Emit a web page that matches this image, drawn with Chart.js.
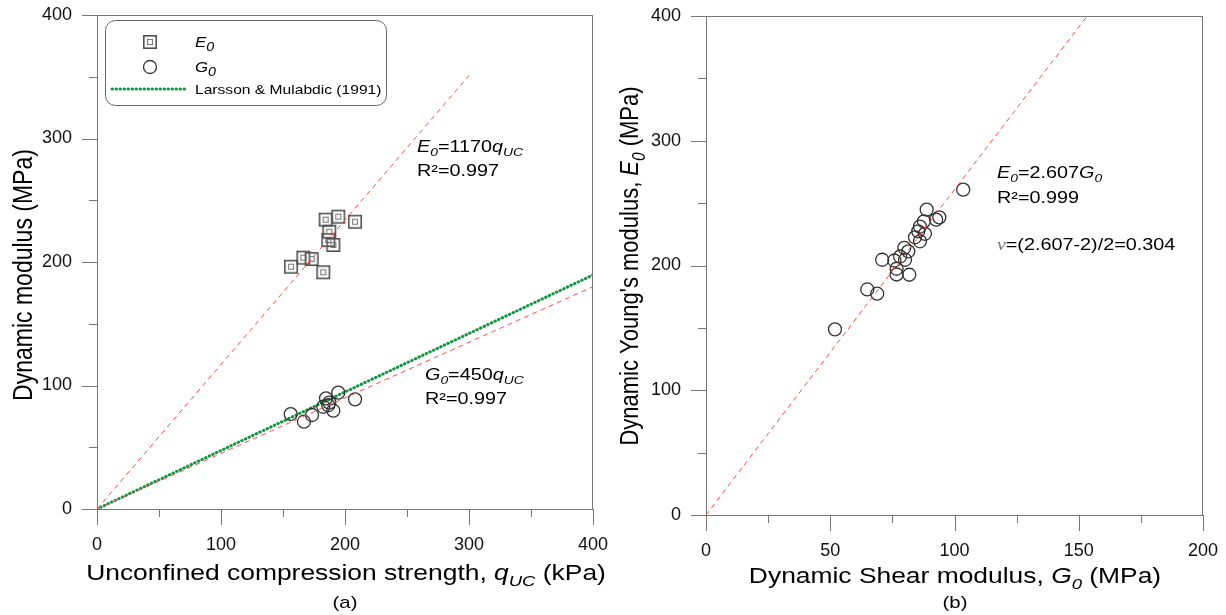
<!DOCTYPE html>
<html><head><meta charset="utf-8">
<script src="https://cdn.jsdelivr.net/npm/chart.js@4"></script>
<style>
html,body{margin:0;padding:0;background:#fff;}
body{width:1226px;height:615px;overflow:hidden;position:relative;}
canvas{position:absolute;top:0;}
#c1{left:0;} #c2{left:613px;}
</style></head>
<body>
<canvas id="c1" width="613" height="615"></canvas>
<canvas id="c2" width="613" height="615"></canvas>
<script>
// ---------- DATA ----------
// Panel (a)
const qucE = [156.5, 166.4, 173.1, 182.5, 184.4, 186.5, 187.3, 190.6, 194.6, 208.1];
const e0A  = [196.2, 203.5, 202.4, 191.7, 234.3, 217.8, 224.5, 213.8, 236.7, 232.6];
const qucG = [156.2, 166.9, 173.4, 182.5, 184.7, 186.5, 187.3, 190.6, 194.6, 208.1];
const g0A  = [76.9, 70.7, 76.1, 82.8, 89.6, 84.0, 86.1, 79.6, 94.2, 88.8];
const fitEx = [0, 300], fitEy = [0, 351];
const fitGx = [0, 400], fitGy = [0, 180];
const lmX = [0, 400], lmY = [0, 189.5];
const aXMajor = [0, 100, 200, 300, 400], aXMinor = [50, 150, 250, 350];
const aYMajor = [0, 100, 200, 300, 400], aYMinor = [50, 150, 250, 350];
// Panel (b)
const g0B = [103.5, 88.8, 93.9, 92.6, 87.7, 86.1, 85.4, 88.1, 84.1, 86.1, 79.8, 81.4, 78.1, 75.8, 80.1, 70.9, 76.7, 76.7, 81.8, 64.9, 68.9, 51.9];
const e0B = [260.8, 244.8, 238.6, 236.8, 235.4, 231.2, 227.4, 225.4, 222.6, 219.4, 214.2, 211.4, 207.2, 204.0, 204.6, 204.6, 197.4, 192.8, 192.6, 180.8, 177.4, 148.8];
const fitBx = [0, 153.4], fitBy = [0, 400];
const bXMajor = [0, 50, 100, 150, 200], bXMinor = [25, 75, 125, 175];
const bYMajor = [0, 100, 200, 300, 400], bYMinor = [50, 150, 250, 350];

const pts = (xs, ys) => xs.map((x, i) => ({x, y: ys[i]}));
const SANS = '"Liberation Sans", Arial, sans-serif';
const SX = 1.2; // horizontal stretch of text in the original figure

// double square marker
function makeSq() {
  const c = document.createElement('canvas'); c.width = 16; c.height = 16;
  const g = c.getContext('2d');
  g.strokeStyle = '#505050'; g.lineWidth = 1.6; g.strokeRect(1.8, 1.8, 12.4, 12.4);
  g.strokeStyle = '#7a7a7a'; g.lineWidth = 1.1; g.strokeRect(5.5, 5.5, 5, 5);
  return c;
}
const sqImg = makeSq();

// rich text helpers: runs = [[text, style]], style: '', 'i', 'is', 'g' (greek serif)
let SUBR = 0.7;
function runFont(st, size) {
  const sub = st.includes('s');
  const fs = sub ? size * SUBR : size;
  if (st.includes('g')) return `italic ${fs}px "Liberation Serif", "DejaVu Serif", serif`;
  return `${st.includes('i') ? 'italic ' : ''}${fs}px ${SANS}`;
}
function measureRich(ctx, runs, size) {
  let w = 0;
  for (const [t, st] of runs) { ctx.font = runFont(st, size); w += ctx.measureText(t).width; }
  return w;
}
function drawRichLocal(ctx, runs, size, color, align) {
  ctx.textBaseline = 'alphabetic'; ctx.textAlign = 'left';
  let cx = 0;
  if (align === 'center') cx = -measureRich(ctx, runs, size) / 2;
  for (const [t, st] of runs) {
    ctx.font = runFont(st, size);
    ctx.fillStyle = st.includes('g') ? '#777' : color;
    ctx.fillText(t, cx, st.includes('s') ? size * 0.27 : 0);
    cx += ctx.measureText(t).width;
  }
}
function drawRich(ctx, x, y, runs, size, color, align) {
  ctx.save(); ctx.translate(x, y); ctx.scale(SX, 1);
  drawRichLocal(ctx, runs, size, color, align);
  ctx.restore();
}
function drawRichV(ctx, cx, cy, runs, size, color) {
  ctx.save(); ctx.translate(cx, cy); ctx.scale(SX, 1); ctx.rotate(-Math.PI / 2);
  drawRichLocal(ctx, runs, size, color, 'center');
  ctx.restore();
}

function frameAndTicks(chart, xMaj, xMin, yMaj, yMin) {
  const ctx = chart.ctx, a = chart.chartArea, xs = chart.scales.x, ys = chart.scales.y;
  ctx.save();
  ctx.strokeStyle = '#777'; ctx.lineWidth = 1;
  ctx.beginPath();
  ctx.moveTo(a.left, a.top + 0.5); ctx.lineTo(a.right, a.top + 0.5);
  ctx.moveTo(a.right - 0.5, a.top); ctx.lineTo(a.right - 0.5, a.bottom);
  for (const v of xMaj) { const p = Math.round(xs.getPixelForValue(v)) + 0.5; ctx.moveTo(p, a.bottom); ctx.lineTo(p, a.bottom + 16); }
  for (const v of xMin) { const p = Math.round(xs.getPixelForValue(v)) + 0.5; ctx.moveTo(p, a.bottom); ctx.lineTo(p, a.bottom + 8); }
  for (const v of yMaj) { const p = Math.round(ys.getPixelForValue(v)) + 0.5; ctx.moveTo(a.left - 15, p); ctx.lineTo(a.left, p); }
  for (const v of yMin) { const p = Math.round(ys.getPixelForValue(v)) + 0.5; ctx.moveTo(a.left - 8, p); ctx.lineTo(a.left, p); }
  ctx.stroke();
  ctx.restore();
}

function zeroPad(s) { s.paddingLeft = 0; s.paddingRight = 0; s.paddingTop = 0; s.paddingBottom = 0; }

function baseScales(xMax, yMax, xMaj, yMaj, yW, xH) {
  const common = {
    type: 'linear',
    grid: { display: true, drawOnChartArea: false, drawTicks: true, tickLength: 15, tickColor: 'rgba(0,0,0,0)' },
    border: { display: true, color: '#777', width: 1 },
    ticks: { color: '#111', font: { family: SANS, size: 18 }, padding: 10 }
  };
  return {
    x: Object.assign({}, common, {
      min: 0, max: xMax,
      grid: Object.assign({}, common.grid, { tickLength: 16 }),
      ticks: Object.assign({}, common.ticks, { padding: 9, maxRotation: 0 }),
      afterBuildTicks: s => { s.ticks = xMaj.map(v => ({value: v})); },
      afterFit: s => { s.height = xH; zeroPad(s); }
    }),
    y: Object.assign({}, common, {
      min: 0, max: yMax,
      afterBuildTicks: s => { s.ticks = yMaj.map(v => ({value: v})); },
      afterFit: s => { s.width = yW; zeroPad(s); }
    })
  };
}

const commonOpts = {
  responsive: false, animation: false,
  plugins: { legend: { display: false }, tooltip: { enabled: false } }
};

// ---------- Chart (a) ----------
const pluginA = {
  id: 'pa',
  afterDraw(chart) {
    const ctx = chart.ctx;
    frameAndTicks(chart, aXMajor, aXMinor, aYMajor, aYMinor);
    // axis titles
    drawRich(ctx, 346, 580, [['Unconfined compression strength, ', ''], ['q', 'i'], ['UC', 'is'], [' (kPa)', '']], 22, '#000', 'center');
    drawRich(ctx, 345, 608, [['(a)', '']], 17, '#000', 'center');
    drawRichV(ctx, 32, 275, [['Dynamic modulus (MPa)', '']], 23, '#000');
    // annotations
    drawRich(ctx, 417, 152, [['E', 'i'], ['0', 'is'], ['=1170', ''], ['q', 'i'], ['UC', 'is']], 16.5, '#000');
    drawRich(ctx, 417, 176, [['R\u00b2=0.997', '']], 16.5, '#000');
    drawRich(ctx, 425, 380, [['G', 'i'], ['0', 'is'], ['=450', ''], ['q', 'i'], ['UC', 'is']], 16.5, '#000');
    drawRich(ctx, 425, 404, [['R\u00b2=0.997', '']], 16.5, '#000');
    // legend
    ctx.save();
    ctx.strokeStyle = '#666'; ctx.lineWidth = 1; ctx.fillStyle = '#fff';
    ctx.beginPath();
    ctx.roundRect(105.5, 20.5, 281, 85, 10);
    ctx.fill(); ctx.stroke();
    ctx.drawImage(sqImg, 150 - 8, 42 - 8);
    ctx.beginPath(); ctx.strokeStyle = '#333'; ctx.lineWidth = 1.3;
    ctx.arc(150, 67, 6.5, 0, Math.PI * 2); ctx.stroke();
    ctx.beginPath(); ctx.strokeStyle = '#129640'; ctx.lineWidth = 3; ctx.lineCap = 'round';
    ctx.setLineDash([0.5, 3.5]);
    ctx.moveTo(112, 89); ctx.lineTo(187, 89); ctx.stroke();
    ctx.restore();
    SUBR = 0.85;
    drawRich(ctx, 195, 47, [['E', 'i'], ['0', 'is']], 14, '#000');
    drawRich(ctx, 195, 72, [['G', 'i'], ['0', 'is']], 14, '#000');
    SUBR = 0.7;
    drawRich(ctx, 195, 94, [['Larsson & Mulabdic (1991)', '']], 13, '#000');
  }
};

new Chart(document.getElementById('c1'), {
  type: 'scatter',
  data: {
    datasets: [
      { data: pts(fitEx, fitEy), showLine: true, pointRadius: 0, borderColor: '#ff4a4a', borderWidth: 1, borderDash: [5, 4] },
      { data: pts(fitGx, fitGy), showLine: true, pointRadius: 0, borderColor: '#ff4a4a', borderWidth: 1, borderDash: [5, 4] },
      { data: pts(qucE, e0A), pointStyle: sqImg, pointRadius: 8 },
      { data: pts(qucG, g0A), pointStyle: 'circle', pointRadius: 6.5, borderColor: '#333', borderWidth: 1.3, backgroundColor: 'rgba(0,0,0,0)' },
      { data: pts(lmX, lmY), showLine: true, pointRadius: 0, borderColor: '#129640', borderWidth: 3, borderDash: [0.5, 3.5], borderCapStyle: 'round' }
    ]
  },
  options: Object.assign({}, commonOpts, {
    layout: { padding: { left: 0, right: 20, top: 15, bottom: 0 } },
    scales: baseScales(400, 400, aXMajor, aYMajor, 97, 106)
  }),
  plugins: [pluginA]
});

// ---------- Chart (b) ----------
const pluginB = {
  id: 'pb',
  afterDraw(chart) {
    const ctx = chart.ctx;
    frameAndTicks(chart, bXMajor, bXMinor, bYMajor, bYMinor);
    drawRich(ctx, 342, 583, [['Dynamic Shear modulus, ', ''], ['G', 'i'], ['0', 'is'], [' (MPa)', '']], 22, '#000', 'center');
    drawRich(ctx, 342, 608, [['(b)', '']], 17, '#000', 'center');
    drawRichV(ctx, 25, 266, [["Dynamic Young's modulus, ", ''], ['E', 'i'], ['0', 'is'], [' (MPa)', '']], 22, '#000');
    drawRich(ctx, 384, 178, [['E', 'i'], ['0', 'is'], ['=2.607', ''], ['G', 'i'], ['0', 'is']], 16.5, '#000');
    drawRich(ctx, 384, 203, [['R\u00b2=0.999', '']], 16.5, '#000');
    drawRich(ctx, 384, 250, [['\u03bd', 'g'], ['=(2.607-2)/2=0.304', '']], 16.5, '#000');
  }
};

new Chart(document.getElementById('c2'), {
  type: 'scatter',
  data: {
    datasets: [
      { data: pts(fitBx, fitBy), showLine: true, pointRadius: 0, borderColor: '#ff4a4a', borderWidth: 1, borderDash: [5, 4] },
      { data: pts(g0B, e0B), pointStyle: 'circle', pointRadius: 6.5, borderColor: '#333', borderWidth: 1.3, backgroundColor: 'rgba(0,0,0,0)' }
    ]
  },
  options: Object.assign({}, commonOpts, {
    layout: { padding: { left: 0, right: 23, top: 16, bottom: 0 } },
    scales: baseScales(200, 400, bXMajor, bYMajor, 93, 100)
  }),
  plugins: [pluginB]
});
</script>
</body></html>
